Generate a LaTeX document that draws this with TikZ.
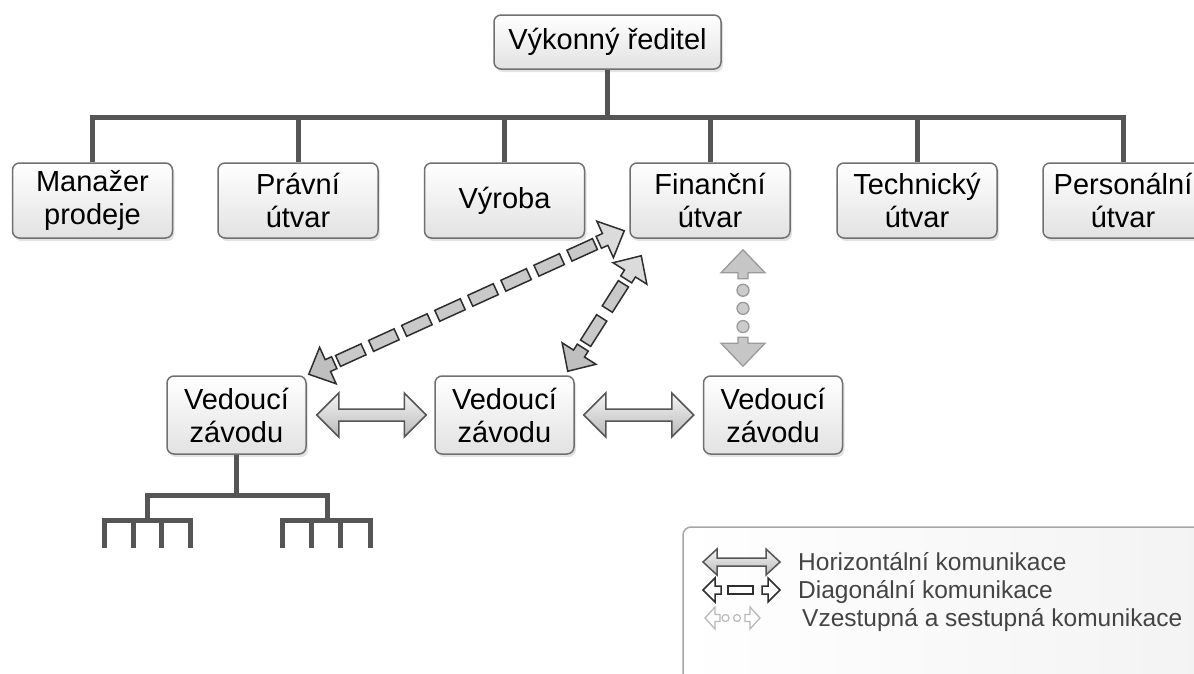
\documentclass[tikz,border=0pt]{standalone}
\usepackage{fontspec}
\setmainfont{Liberation Sans}
\usetikzlibrary{calc,shadows}
\definecolor{linegray}{HTML}{555555}
\definecolor{boxedge}{HTML}{707070}
\definecolor{boxbot}{HTML}{E2E2E2}
\definecolor{darkedge}{HTML}{2E2E2E}
\definecolor{lightedge}{HTML}{9A9A9A}
\definecolor{legtext}{HTML}{444444}
\newcommand\bhead[7][]{% #2 tip, #3 toward, #4 H, #5 W, #6 w, #7 s
  \coordinate (bhB) at ($(#2)!#4!(#3)$);
  \coordinate (bhS) at ($(#2)!#4+#7!(#3)$);
  \draw[#1] (#2) -- ($(bhB)!#5!90:(#2)$) -- ($(bhB)!#6!90:(#2)$) -- ($(bhS)!#6!90:(#2)$)
    -- ($(bhS)!#6!-90:(#2)$) -- ($(bhB)!#6!-90:(#2)$) -- ($(bhB)!#5!-90:(#2)$) -- cycle;
}
\newcommand\dblarrow[6][]{% #2 left tip, #3 right tip, #4 head length, #5 head half, #6 shaft half
  \path[#1] (#2) -- ($(#2)+(#4,-#5)$) -- ($(#2)+(#4,-#6)$) -- ($(#3)+(-#4,-#6)$) -- ($(#3)+(-#4,-#5)$)
    -- (#3) -- ($(#3)+(-#4,#5)$) -- ($(#3)+(-#4,#6)$) -- ($(#2)+(#4,#6)$) -- ($(#2)+(#4,#5)$) -- cycle;
}
\newcommand\dashshaft[4]{% from, to, n, dash length
  \foreach \i in {1,...,#3}{
    \pgfmathsetmacro\pp{(\i-0.5)/#3}
    \path ($(#1)!28pt!(#2)$) -- ($(#2)!28pt!(#1)$) node[dashseg, minimum width=#4, sloped, pos=\pp] {};
  }
}
\begin{document}
\begin{tikzpicture}[x=1pt,y=-1pt,
  box/.style={draw=boxedge, line width=1.5pt, rounded corners=7pt, top color=white, bottom color=boxbot,
    align=center, font=\fontsize{29}{33}\selectfont, inner sep=0pt,
    drop shadow={shadow xshift=2pt, shadow yshift=-3pt, opacity=.22}},
  topbox/.style={box, minimum width=160pt, minimum height=75pt},
  lowbox/.style={box, minimum width=139pt, minimum height=78pt},
  conn/.style={draw=linegray, line width=5pt},
  harrow/.style={draw=linegray, line width=1.5pt, line join=miter, top color=gray!8, bottom color=gray!55},
  dhead/.style={draw=darkedge, line width=1.5pt, line join=miter, fill=#1},
  dashseg/.style={draw=darkedge, line width=1.5pt, fill=gray!42, minimum height=12pt, inner sep=0pt, shape=rectangle},
  vhead/.style={draw=lightedge, line width=1.3pt, line join=miter, fill=gray!45},
  vdot/.style={circle, draw=lightedge, line width=1.3pt, fill=gray!40, minimum size=12pt, inner sep=0pt},
  legtxt/.style={anchor=base west, text=legtext, font=\fontsize{24.5}{28}\selectfont, inner sep=0pt},
]
\fill[white] (0,0) rectangle (1194,673);
\useasboundingbox (0,0) rectangle (1194,673);

% nodes
\node[box, minimum width=227pt, minimum height=54pt] (ceo) at (607.5,42) {Výkonný ředitel};
\node[topbox] (m1) at (92.5,200.5) {Manažer\\prodeje};
\node[topbox] (m2) at (298,200.5) {Právní\\útvar};
\node[topbox] (m3) at (504.5,200.5) {Výroba};
\node[topbox] (m4) at (710,200.5) {Finanční\\útvar};
\node[topbox] (m5) at (917,200.5) {Technický\\útvar};
\node[topbox] (m6) at (1123,200.5) {Personální\\útvar};
\node[lowbox] (v1) at (236.5,415) {Vedoucí\\závodu};
\node[lowbox] (v2) at (504.5,415) {Vedoucí\\závodu};
\node[lowbox] (v3) at (773,415) {Vedoucí\\závodu};

% top tree
\coordinate (bar) at (ceo.south |- 0,117);
\draw[conn] (ceo.south) -- (bar);
\draw[conn] (m1.north) |- (bar) -| (m6.north);
\foreach \n in {m2,m3,m4,m5} \draw[conn] (\n.north) -- (\n.north |- bar);

% lower tree
\coordinate (t0) at (v1.south |- 0,495);
\coordinate (tl) at (147,520);
\coordinate (tr) at (327,520);
\draw[conn] (v1.south) -- (t0);
\draw[conn] (tl) |- (t0) -| (tr);
\draw[conn] (104,548) |- (tl) -| (190,548);
\draw[conn] (133,520) -- (133,548);
\draw[conn] (161,520) -- (161,548);
\draw[conn] (282,548) |- (tr) -| (370,548);
\draw[conn] (311,520) -- (311,548);
\draw[conn] (340,520) -- (340,548);

% horizontal communication
\coordinate (h1a) at ($(v1.east)+(10,0)$);
\coordinate (h1b) at ($(v2.west)+(-8,0)$);
\coordinate (h2a) at ($(v2.east)+(9,0)$);
\coordinate (h2b) at ($(v3.west)+(-9,0)$);
\dblarrow[harrow]{h1a}{h1b}{22}{22}{6}
\dblarrow[harrow]{h2a}{h2b}{22}{22}{6}

% diagonal communication
\coordinate (d1a) at ($(m4.south west)+(-5,-8)$);
\coordinate (d1b) at ($(v1.north east)+(2,-1)$);
\coordinate (d2a) at ($(m4.south west)+(12,17)$);
\coordinate (d2b) at ($(v2.north east)+(-7,-4)$);
\dashshaft{d1a}{d1b}{8}{28pt}
\dashshaft{d2a}{d2b}{2}{30pt}
\bhead[dhead=gray!28]{d1a}{d1b}{21pt}{20pt}{6.5pt}{7pt}
\bhead[dhead=gray!50]{d1b}{d1a}{21pt}{20pt}{6.5pt}{7pt}
\bhead[dhead=gray!28]{d2a}{d2b}{21pt}{20pt}{6.5pt}{7pt}
\bhead[dhead=gray!50]{d2b}{d2a}{21pt}{20pt}{6.5pt}{7pt}

% vertical communication
\coordinate (ua) at ($(m4.south)+(33,11)$);
\coordinate (ub) at ($(v3.north)+(-30,-9)$);
\bhead[vhead]{ua}{ub}{23pt}{22pt}{5pt}{6pt}
\bhead[vhead]{ub}{ua}{23pt}{22pt}{5pt}{6pt}
\path ($(ua)!29pt!(ub)$) -- ($(ub)!27pt!(ua)$)
  node[vdot, pos=.19] {} node[vdot, pos=.49] {} node[vdot, pos=.79] {};

% legend
\path[draw=gray!70, line width=1.5pt, rounded corners=8pt, left color=white, right color=gray!10]
  (683,720) -- (683,527) -- (1240,527) -- (1240,720) -- cycle;
\coordinate (l1a) at (703,562);
\coordinate (l1b) at (780,562);
\dblarrow[harrow]{l1a}{l1b}{14}{13}{4}
\node[legtxt] (t1) at (798,570.5) {Horizontální komunikace};

\coordinate (l2a) at (703,590);
\coordinate (l2b) at (780,590);
\bhead[draw=darkedge, line width=1.5pt, line join=miter, fill=white]{l2a}{l2b}{12pt}{12pt}{4pt}{6pt}
\bhead[draw=darkedge, line width=1.5pt, line join=miter, fill=white]{l2b}{l2a}{12pt}{12pt}{4pt}{6pt}
\draw[darkedge, line width=1.5pt, fill=white] (728,586) rectangle (753,594);
\node[legtxt] (t2) at (798,598.5) {Diagonální komunikace};

\coordinate (l3a) at (705,618);
\coordinate (l3b) at (760,618);
\bhead[draw=gray!55, line width=1.3pt, line join=miter, fill=white]{l3a}{l3b}{10pt}{11pt}{3.5pt}{5pt}
\bhead[draw=gray!55, line width=1.3pt, line join=miter, fill=white]{l3b}{l3a}{10pt}{11pt}{3.5pt}{5pt}
\draw[gray!55, line width=1.2pt, fill=white] (725.5,618) circle (3.5) (737,618) circle (3.5);
\node[legtxt] (t3) at (802,626.5) {Vzestupná a sestupná komunikace};
\end{tikzpicture}
\end{document}
